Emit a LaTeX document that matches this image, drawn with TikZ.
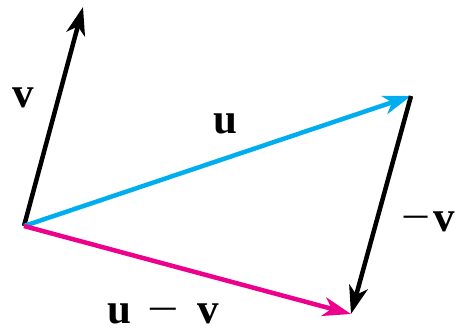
\documentclass[tikz,border=0pt]{standalone}
\usepackage{fontspec}
\setmainfont{Liberation Serif}
\usetikzlibrary{arrows.meta}
\definecolor{ucyan}{RGB}{0,174,239}
\definecolor{umag}{RGB}{236,0,140}
\begin{document}
\begin{tikzpicture}[x=1pt,y=-1pt,
  vec/.style={line width=4.5pt,-{Stealth[length=28pt,width=19pt,inset=8pt]}},
  lbl/.style={font=\fontsize{43}{46}\selectfont\bfseries,inner sep=0pt}]
\useasboundingbox (0,0) rectangle (457,331);
\coordinate (O) at (24,226);
\coordinate (V) at (83,7);
\coordinate (U) at (411,96);
\coordinate (W) at (351,314);
\draw[vec,black] (O) -- (V);
\draw[vec,ucyan] (O) -- (U);
\draw[vec,umag] (O) -- (W);
\draw[vec,black] (U) -- (W);
\node[lbl] (lv) at (23,98) {v};
\node[lbl] (lu) at (225,124) {u};
\node[lbl] (lmv) at (428,222) {{\mdseries\scalebox{1.2}[1]{−}}\hspace{3pt}v};
\node[lbl] (luv) at (163,314) {u\hspace{17pt}{\mdseries\scalebox{1.3}[1]{−}}\hspace{18pt}v};
\end{tikzpicture}
\end{document}
